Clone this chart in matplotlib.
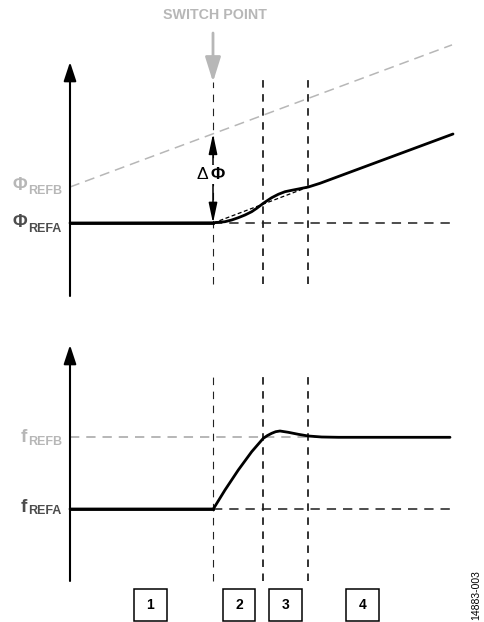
import matplotlib

matplotlib.use("Agg")
import matplotlib.pyplot as plt
from matplotlib.patches import FancyArrowPatch, Rectangle

plt.rcParams["font.family"] = ["Liberation Sans", "DejaVu Sans"]
plt.rcParams["mathtext.fontset"] = "custom"
plt.rcParams["mathtext.rm"] = "Liberation Sans"
plt.rcParams["mathtext.bf"] = "Liberation Sans:bold"
plt.rcParams["lines.scale_dashes"] = False

# time in arbitrary units (0 = vertical axis)
t_switch = 14.3
t_markers = [14.3, 19.35, 23.8]
t_end = 38.2

# phase panel
phi_refa = 0.0
phi_refb_start = 3.6
phi_refb_slope = 0.372
phase_t = [0.0, 14.33, 14.83, 15.5, 16.17, 16.83, 17.5, 18.17, 18.67, 19.33, 19.67,
           20.17, 20.83, 21.5, 22.17, 22.83, 23.83, 25.0, 38.3]
phase_v = [0.0, 0.02, 0.07, 0.13, 0.3, 0.53, 0.8, 1.13, 1.47, 1.97, 2.2,
           2.53, 2.87, 3.13, 3.27, 3.4, 3.6, 3.97, 8.9]
ramp_t = [14.33, 23.83]
ramp_v = [0.0, 3.6]

# frequency panel
f_refa = 0.0
f_refb = 7.2
freq_t = [0.0, 14.33, 15.5, 16.83, 18.17, 19.33, 19.75, 20.17, 20.57, 21.0, 21.83,
          22.83, 23.83, 25.17, 26.83, 38.0]
freq_v = [0.0, 0.0, 1.9, 3.9, 5.73, 7.07, 7.35, 7.57, 7.73, 7.8, 7.67,
          7.47, 7.3, 7.2, 7.17, 7.17]

region_labels = ["1", "2", "3", "4"]
region_centers = [8.05, 16.9, 21.55, 29.25]

LIGHT = "#b7b7b7"
DARK = "#4d4d4d"

fig = plt.figure(figsize=(4.85, 6.22), dpi=100)
ax_top = fig.add_axes([0, 322 / 622, 1, 300 / 622])
ax_bot = fig.add_axes([0, 0, 1, 322 / 622])
ax_top.set_xlim(-7.0, 41.5)
ax_top.set_ylim(-7.7, 22.3)
ax_bot.set_xlim(-7.0, 41.5)
ax_bot.set_ylim(-11.3, 20.9)
for ax in (ax_top, ax_bot):
    ax.axis("off")


def arrow(ax, start, end, style, color, lw, z=3):
    ax.add_patch(FancyArrowPatch(start, end, arrowstyle=style, mutation_scale=10,
                                 color=color, linewidth=lw, shrinkA=0, shrinkB=0,
                                 zorder=z, clip_on=False))


# ---- phase panel ----
arrow(ax_top, (0, -7.3), (0, 16.1), "-|>,head_length=1.15,head_width=0.38", "black", 1.5)

refb_end = phi_refb_start + phi_refb_slope * t_end
ax_top.plot([0, t_end], [phi_refb_start, refb_end], color=LIGHT, lw=1.1,
            ls=(0, (7.2, 4.3)), zorder=1)
ax_top.plot([0, t_switch], [phi_refa, phi_refa], color="black", lw=2.0, zorder=4)
ax_top.plot([t_switch, t_end], [phi_refa, phi_refa], color=DARK, lw=1.4,
            ls=(0, (6.7, 5.0)), zorder=1)
ax_top.plot(ramp_t, ramp_v, color="black", lw=0.9, ls=(0, (2.9, 1.8)), zorder=3)
ax_top.plot(phase_t, phase_v, color="black", lw=2.0, zorder=4,
            solid_capstyle="round", solid_joinstyle="round")

for i, t in enumerate(t_markers):
    top = 14.1 if i == 0 else 14.6
    ax_top.plot([t, t], [-6.1, top], color="#222222", lw=0.8 if i == 0 else 1.3,
                ls=(0, (5.4, 4.7)), zorder=2)

# switch point arrow and label
arrow(ax_top, (t_switch, 19.0), (t_switch, 14.1),
      "-|>,head_length=1.5,head_width=0.47", LIGHT, 2.0)
ax_top.text(t_switch + 0.2, 20.8, "SWITCH POINT", color=LIGHT, fontsize=10.3,
            fontweight="bold", ha="center", va="center")

# delta phi
dphi_top = phi_refb_start + phi_refb_slope * t_switch
arrow(ax_top, (t_switch, phi_refa), (t_switch, dphi_top),
      "<|-|>,head_length=1.22,head_width=0.26", "black", 1.1)
ax_top.text(t_switch - 0.15, 4.87, r"$\Delta\,\mathbf{\Phi}$", fontsize=12.5,
            ha="center", va="center", zorder=5,
            bbox=dict(boxstyle="square,pad=0.1", fc="white", ec="none"))

# level labels
ax_top.text(-4.33, phi_refb_start - 0.3, "\u03a6", color=LIGHT, fontsize=13,
            fontweight="bold", ha="right", va="baseline")
ax_top.text(-4.17, phi_refb_start - 0.75, "REFB", color=LIGHT, fontsize=9,
            fontweight="bold", ha="left", va="baseline")
ax_top.text(-4.33, phi_refa - 0.37, "\u03a6", color=DARK, fontsize=13,
            fontweight="bold", ha="right", va="baseline")
ax_top.text(-4.17, phi_refa - 0.85, "REFA", color=DARK, fontsize=9,
            fontweight="bold", ha="left", va="baseline")

# ---- frequency panel ----
arrow(ax_bot, (0, -7.2), (0, 16.4), "-|>,head_length=1.15,head_width=0.38", "black", 1.5)
ax_bot.plot([0, t_end - 0.2], [f_refb, f_refb], color=LIGHT, lw=1.4,
            ls=(0, (6.7, 5.0)), zorder=1)
ax_bot.plot([0, t_switch], [f_refa, f_refa], color="black", lw=2.0, zorder=4)
ax_bot.plot([t_switch, t_end - 0.2], [f_refa, f_refa], color=DARK, lw=1.4,
            ls=(0, (6.7, 5.0)), zorder=1)
ax_bot.plot(freq_t, freq_v, color="black", lw=2.0, zorder=4,
            solid_capstyle="round", solid_joinstyle="round")

for i, t in enumerate(t_markers):
    ax_bot.plot([t, t], [-7.2, 13.4], color="#222222", lw=0.8 if i == 0 else 1.3,
                ls=(0, (5.4, 4.7)), zorder=2)

ax_bot.text(-4.33, f_refb - 0.47, "f", color=LIGHT, fontsize=13.5,
            fontweight="bold", ha="right", va="baseline")
ax_bot.text(-4.17, f_refb - 0.8, "REFB", color=LIGHT, fontsize=9,
            fontweight="bold", ha="left", va="baseline")
ax_bot.text(-4.33, f_refa - 0.27, "f", color=DARK, fontsize=13.5,
            fontweight="bold", ha="right", va="baseline")
ax_bot.text(-4.17, f_refa - 0.45, "REFA", color=DARK, fontsize=9,
            fontweight="bold", ha="left", va="baseline")

# region boxes
for lab, c in zip(region_labels, region_centers):
    ax_bot.add_patch(Rectangle((c - 1.62, -11.2), 3.24, 3.2, fill=False,
                               ec="black", lw=1.1, clip_on=False))
    ax_bot.text(c, -9.6, lab, fontsize=10, fontweight="bold", ha="center", va="center")

ax_bot.text(40.6, -8.6, "14883-003", fontsize=7.5, rotation=90,
            ha="center", va="center")

fig.savefig("out.png", dpi=100)
